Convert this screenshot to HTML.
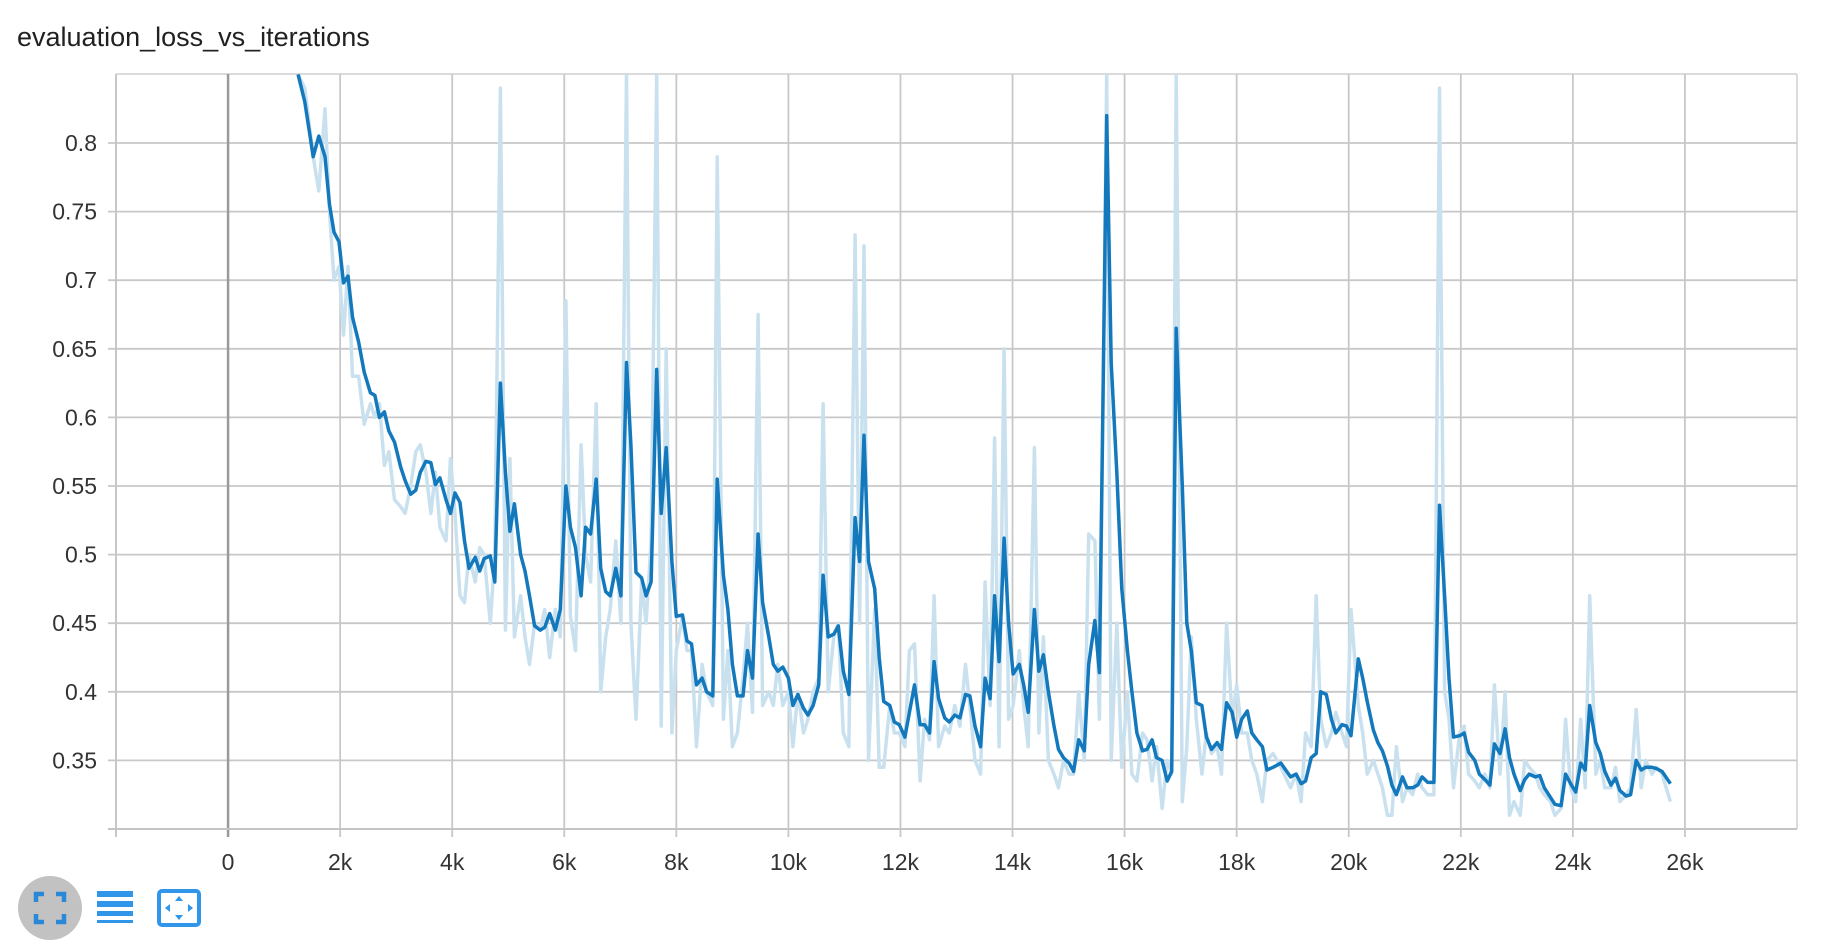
<!DOCTYPE html>
<html><head><meta charset="utf-8"><style>
html,body{margin:0;padding:0;background:#fff;width:1822px;height:946px;overflow:hidden}
svg{display:block;font-family:"Liberation Sans",sans-serif}
</style></head><body>
<svg id="chart" width="1822" height="946">
<text x="17" y="46" font-size="27" fill="#212121">evaluation_loss_vs_iterations</text>
<g id="grid"></g>
<defs><clipPath id="clip"><rect x="116" y="74" width="1681" height="755"/></clipPath></defs>
<g clip-path="url(#clip)">
<path id="raw" fill="none" stroke="#c9e1ef" stroke-width="3.5" stroke-linejoin="round"/>
<path id="smooth" fill="none" stroke="#1379bc" stroke-width="3.5" stroke-linejoin="round"/>
</g>
<g id="axes"></g>
<g>
<circle cx="50" cy="908" r="32" fill="#c2c2c2"/>
<path d="M36 902v-8h8 M56 894h8v8 M64 914v8h-8 M44 922h-8v-8" fill="none" stroke="#2b87d8" stroke-width="4.5"/>
</g>
<g fill="#2f96ea">
<rect x="97" y="891" width="36" height="6"/><rect x="97" y="901" width="36" height="6"/><rect x="97" y="911" width="36" height="5"/><rect x="97" y="920" width="36" height="3"/>
</g>
<g>
<rect x="159" y="891" width="40" height="34" rx="3" fill="none" stroke="#2f96ea" stroke-width="4"/>
<path d="M179 896l-4 5h8z M179 920l-4-5h8z M165 908l5-4v8z M193 908l-5-4v8z" fill="#2f96ea"/>
</g>
</svg>
<script>
const iters=[1.25,1.37,1.52,1.62,1.73,1.81,1.89,1.98,2.06,2.14,2.22,2.33,2.43,2.54,2.62,2.70,2.79,2.87,2.97,3.08,3.16,3.26,3.35,3.43,3.53,3.62,3.70,3.78,3.89,3.97,4.05,4.14,4.22,4.30,4.41,4.49,4.57,4.68,4.76,4.86,4.95,5.03,5.11,5.22,5.30,5.38,5.47,5.57,5.65,5.74,5.84,5.93,6.03,6.11,6.20,6.30,6.38,6.47,6.57,6.65,6.74,6.82,6.92,7.01,7.11,7.19,7.28,7.38,7.46,7.55,7.65,7.73,7.82,7.92,8.00,8.11,8.19,8.27,8.36,8.46,8.54,8.65,8.73,8.84,8.92,9.00,9.09,9.19,9.27,9.36,9.46,9.54,9.65,9.73,9.81,9.90,10.0,10.08,10.17,10.27,10.35,10.44,10.54,10.62,10.71,10.81,10.89,10.98,11.08,11.19,11.27,11.35,11.43,11.54,11.62,11.70,11.81,11.89,11.98,12.08,12.16,12.25,12.35,12.43,12.52,12.60,12.68,12.79,12.87,12.97,13.06,13.16,13.24,13.33,13.43,13.51,13.60,13.68,13.76,13.85,13.93,14.01,14.12,14.20,14.28,14.39,14.47,14.55,14.64,14.74,14.82,14.91,15.01,15.09,15.18,15.28,15.36,15.47,15.55,15.68,15.76,15.86,15.95,16.05,16.13,16.22,16.32,16.40,16.49,16.57,16.67,16.76,16.84,16.92,17.03,17.11,17.19,17.28,17.38,17.46,17.55,17.65,17.73,17.82,17.92,18.00,18.09,18.19,18.27,18.36,18.46,18.54,18.65,18.79,18.96,19.06,19.15,19.23,19.33,19.42,19.50,19.60,19.69,19.77,19.88,19.96,20.04,20.17,20.25,20.33,20.44,20.52,20.60,20.69,20.77,20.85,20.96,21.04,21.14,21.23,21.31,21.41,21.52,21.62,21.71,21.79,21.87,21.98,22.06,22.14,22.25,22.33,22.43,22.52,22.60,22.70,22.79,22.87,22.95,23.06,23.14,23.22,23.33,23.41,23.49,23.60,23.68,23.79,23.87,23.96,24.05,24.14,24.22,24.30,24.41,24.49,24.57,24.68,24.76,24.84,24.95,25.03,25.13,25.22,25.30,25.41,25.49,25.59,25.74];
const smoothed=[.85,.83,.79,.805,.79,.755,.735,.728,.698,.703,.673,.655,.633,.618,.616,.60,.604,.59,.582,.564,.554,.544,.547,.56,.568,.567,.551,.556,.54,.53,.545,.538,.51,.49,.498,.488,.497,.499,.48,.625,.56,.517,.537,.50,.488,.47,.448,.445,.447,.457,.445,.46,.55,.52,.505,.47,.52,.515,.555,.49,.473,.47,.49,.47,.64,.58,.487,.483,.47,.48,.635,.53,.578,.495,.455,.456,.437,.435,.405,.41,.40,.397,.555,.485,.46,.42,.397,.397,.43,.41,.515,.465,.44,.42,.415,.418,.41,.39,.398,.388,.383,.39,.405,.485,.44,.442,.448,.415,.398,.527,.495,.587,.495,.475,.425,.393,.39,.378,.376,.367,.385,.405,.376,.376,.37,.422,.395,.381,.378,.383,.381,.398,.397,.375,.36,.41,.395,.47,.422,.512,.45,.413,.42,.405,.385,.46,.415,.427,.40,.375,.358,.352,.348,.342,.365,.357,.42,.452,.414,.82,.64,.56,.475,.43,.40,.37,.357,.358,.365,.352,.35,.335,.342,.665,.55,.45,.43,.392,.39,.367,.358,.363,.358,.392,.385,.367,.38,.386,.37,.365,.36,.343,.345,.348,.338,.34,.333,.335,.352,.355,.40,.398,.38,.37,.376,.375,.368,.424,.41,.393,.372,.363,.357,.346,.332,.325,.338,.33,.33,.332,.338,.334,.334,.536,.47,.41,.367,.368,.37,.356,.35,.34,.336,.332,.362,.355,.373,.352,.34,.328,.336,.34,.338,.339,.33,.323,.318,.317,.34,.333,.327,.348,.343,.39,.363,.355,.342,.332,.337,.328,.324,.325,.35,.343,.345,.345,.344,.342,.333];
const raw=[.85,.84,.79,.765,.825,.75,.70,.71,.66,.71,.63,.63,.595,.61,.60,.61,.565,.575,.54,.535,.53,.55,.575,.58,.56,.53,.56,.52,.51,.57,.53,.47,.465,.50,.48,.505,.50,.45,.50,.84,.445,.57,.44,.47,.44,.42,.45,.445,.46,.425,.46,.44,.685,.455,.43,.58,.50,.48,.61,.40,.44,.46,.51,.45,.85,.45,.38,.48,.45,.51,.85,.375,.65,.37,.43,.455,.43,.43,.36,.42,.40,.39,.79,.38,.43,.36,.37,.41,.45,.385,.675,.39,.40,.39,.42,.39,.40,.36,.40,.37,.38,.40,.41,.61,.40,.44,.45,.37,.36,.733,.45,.725,.35,.46,.345,.345,.39,.37,.37,.36,.43,.435,.335,.38,.365,.47,.36,.375,.37,.39,.375,.42,.39,.35,.34,.48,.39,.585,.36,.65,.38,.39,.43,.39,.36,.578,.37,.44,.35,.34,.33,.35,.34,.34,.40,.35,.515,.51,.38,.85,.35,.45,.345,.40,.34,.335,.37,.365,.335,.36,.315,.35,.34,.85,.32,.36,.44,.38,.34,.37,.355,.36,.34,.45,.38,.405,.37,.37,.35,.34,.32,.35,.355,.345,.33,.34,.32,.37,.36,.47,.38,.36,.37,.385,.37,.36,.46,.39,.37,.34,.35,.34,.33,.31,.31,.36,.32,.33,.325,.34,.33,.325,.325,.84,.40,.38,.33,.37,.375,.34,.335,.33,.34,.33,.405,.34,.40,.31,.32,.31,.35,.345,.34,.33,.325,.32,.31,.315,.38,.33,.32,.38,.33,.47,.34,.35,.33,.33,.345,.32,.325,.33,.387,.33,.35,.34,.345,.34,.32,.317];
const yTicks=[0.35,0.4,0.45,0.5,0.55,0.6,0.65,0.7,0.75,0.8];
const yTickLabels=["0.35","0.4","0.45","0.5","0.55","0.6","0.65","0.7","0.75","0.8"];
const xTicks=[-2,0,2,4,6,8,10,12,14,16,18,20,22,24,26];
const xTickLabels=["","0","2k","4k","6k","8k","10k","12k","14k","16k","18k","20k","22k","24k","26k"];

const X0=116,X1=1797,Y0=74,Y1=829;
const xScale=k=>X0+(k+2)/30*(X1-X0);
const yScale=v=>143+(0.8-v)/0.05*68.6;
const NS="http://www.w3.org/2000/svg";
const grid=document.getElementById('grid'), axes=document.getElementById('axes');
function mk(tag,attrs,parent){const e=document.createElementNS(NS,tag);for(const k in attrs)e.setAttribute(k,attrs[k]);parent.appendChild(e);return e;}
mk('line',{x1:X0,x2:X1,y1:Y0,y2:Y0,stroke:'#cfcfcf','stroke-width':1.5},grid);
mk('line',{x1:X1,x2:X1,y1:Y0,y2:Y1,stroke:'#cfcfcf','stroke-width':1.5},grid);
yTicks.forEach((v,i)=>{
  const y=yScale(v);
  const l=mk('line',{x1:X0-8,x2:X1,y1:y,y2:y,stroke:'#c8c8c8','stroke-width':1.8},grid);
  
  
  const t=mk('text',{x:97,y:y+8,'text-anchor':'end','font-size':23,fill:'#333'},axes);
  t.textContent=yTickLabels[i];
  
  
});
xTicks.forEach((k,i)=>{
  const x=xScale(k);
  const l=mk('line',{x1:x,x2:x,y1:Y0,y2:Y1+8,stroke:k===0?'#9a9a9a':'#c8c8c8','stroke-width':k===0?2.5:1.8},grid);
  
  
  const t=mk('text',{x:x,y:870,'text-anchor':'middle','font-size':23,fill:'#333'},axes);
  t.textContent=xTickLabels[i];
  
  
});
const ax=mk('line',{x1:X0-8,x2:X1,y1:Y1,y2:Y1,stroke:'#c4c4c4','stroke-width':2},grid);


const ay=mk('line',{x1:X0,x2:X0,y1:Y0,y2:Y1+8,stroke:'#c4c4c4','stroke-width':1.6},grid);


const pathOf=arr=>arr.map((v,i)=>(i?'L':'M')+xScale(iters[i]).toFixed(1)+' '+yScale(v).toFixed(1)).join(' ');
document.getElementById('raw').setAttribute('d',pathOf(raw));
document.getElementById('smooth').setAttribute('d',pathOf(smoothed));
</script>
</body></html>
